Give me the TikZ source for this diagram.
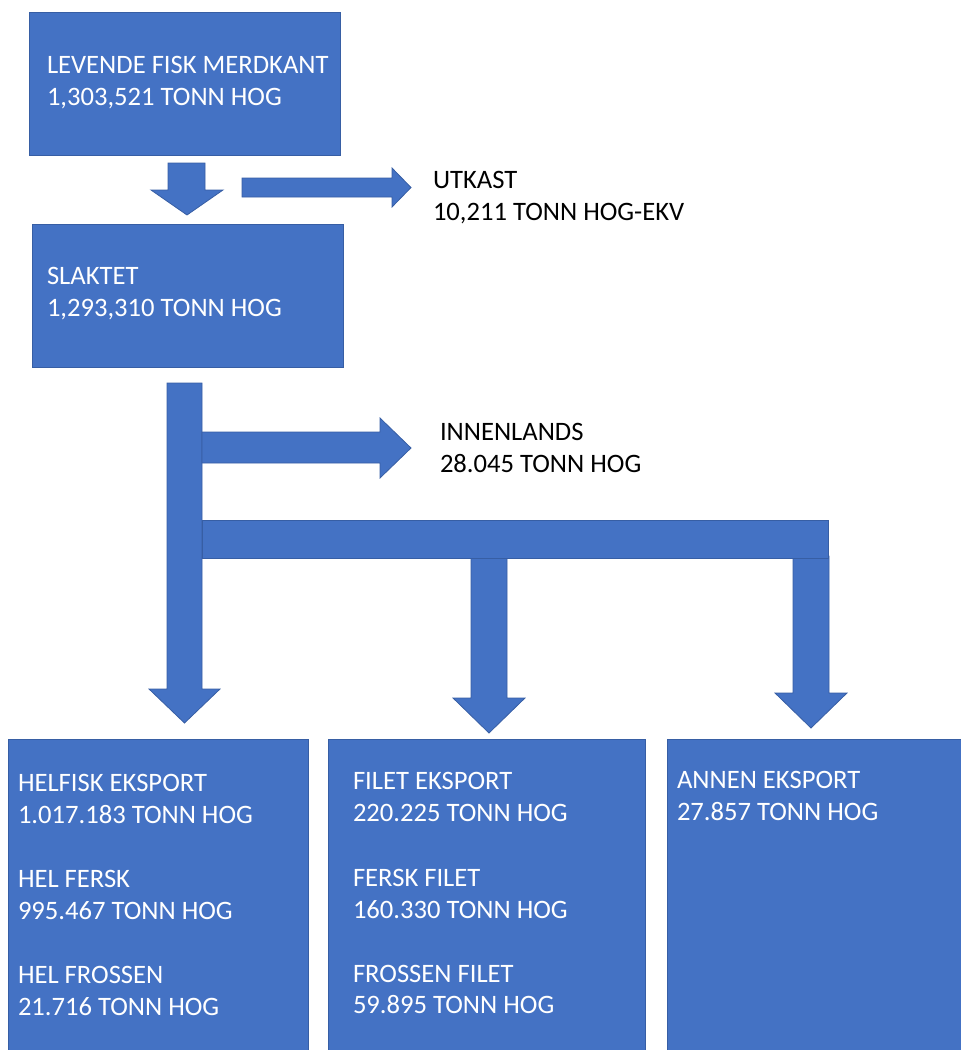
\documentclass[tikz,border=0pt]{standalone}
\usepackage{fontspec}
\setmainfont{Carlito}
\definecolor{flowblue}{RGB}{68,114,196}
\definecolor{flowedge}{RGB}{55,94,164}
\tikzset{
  block/.style={rectangle, draw=flowedge, line width=0.8pt, fill=flowblue,
    inner sep=0pt, outer sep=0pt, anchor=north west},
  flow/.style={draw=flowedge, line width=0.8pt, fill=flowblue, line join=miter},
  label/.style={anchor=base west, inner sep=0pt, outer sep=0pt,
    font=\fontsize{26.6}{32}\selectfont},
  intext/.style={label, text=white},
  outtext/.style={label, text=black}
}
\begin{document}
\begin{tikzpicture}[x=1pt, y=-1pt]
  \useasboundingbox (0,0) rectangle (961,1050);
  \clip (0,0) rectangle (961,1050);

  % stage boxes
  \node[block, minimum width=311pt, minimum height=143pt] (levende) at (29,12) {};
  \node[block, minimum width=311pt, minimum height=143pt] (slaktet) at (32,224) {};
  \node[block, minimum width=300pt, minimum height=330pt] (helfisk) at (8,739) {};
  \node[block, minimum width=317pt, minimum height=330pt] (filet) at (328,739) {};
  \node[block, minimum width=310pt, minimum height=330pt] (annen) at (667,739) {};

  % block arrows
  \draw[flow] (168,163) -- (205,163) -- (205,190) -- (223,190) -- (187,215)
    -- (151,190) -- (168,190) -- cycle;
  \draw[flow] (242,178) -- (392,178) -- (392,168) -- (411,187.5) -- (392,207)
    -- (392,197) -- (242,197) -- cycle;
  \draw[flow] (167,383) -- (202,383) -- (202,689) -- (220,689) -- (184.5,723)
    -- (149,689) -- (167,689) -- cycle;
  \draw[flow] (202,432) -- (380,432) -- (380,418) -- (411,448) -- (380,478)
    -- (380,463) -- (202,463) -- cycle;
  \draw[flow] (471,558) -- (507,558) -- (507,698) -- (525,698) -- (489,733)
    -- (453,698) -- (471,698) -- cycle;
  \draw[flow] (793,556) -- (829,556) -- (829,693) -- (847,693) -- (811,728)
    -- (775,693) -- (793,693) -- cycle;
  \draw[flow] (202,520) rectangle (828,558);

  % texts
  \node[intext] (l1) at (47,73)  {LEVENDE FISK MERDKANT};
  \node[intext] (l2) at (47,105) {1,303,521 TONN HOG};
  \node[intext] (s1) at (47,284) {SLAKTET};
  \node[intext] (s2) at (47,316) {1,293,310 TONN HOG};
  \node[outtext] (u1) at (433,188) {UTKAST};
  \node[outtext] (u2) at (433,220) {10,211 TONN HOG-EKV};
  \node[outtext] (i1) at (440,440) {INNENLANDS};
  \node[outtext] (i2) at (440,472) {28.045 TONN HOG};

  \node[intext] (h1) at (18,791)  {HELFISK EKSPORT};
  \node[intext] (h2) at (18,823)  {1.017.183 TONN HOG};
  \node[intext] (h3) at (18,887)  {HEL FERSK};
  \node[intext] (h4) at (18,919)  {995.467 TONN HOG};
  \node[intext] (h5) at (18,983)  {HEL FROSSEN};
  \node[intext] (h6) at (18,1015) {21.716 TONN HOG};

  \node[intext] (f1) at (353,789)  {FILET EKSPORT};
  \node[intext] (f2) at (353,821)  {220.225 TONN HOG};
  \node[intext] (f3) at (353,886)  {FERSK FILET};
  \node[intext] (f4) at (353,918)  {160.330 TONN HOG};
  \node[intext] (f5) at (353,982)  {FROSSEN FILET};
  \node[intext] (f6) at (353,1013) {59.895 TONN HOG};

  \node[intext] (a1) at (677,788) {ANNEN EKSPORT};
  \node[intext] (a2) at (677,820) {27.857 TONN HOG};
\end{tikzpicture}
\end{document}
